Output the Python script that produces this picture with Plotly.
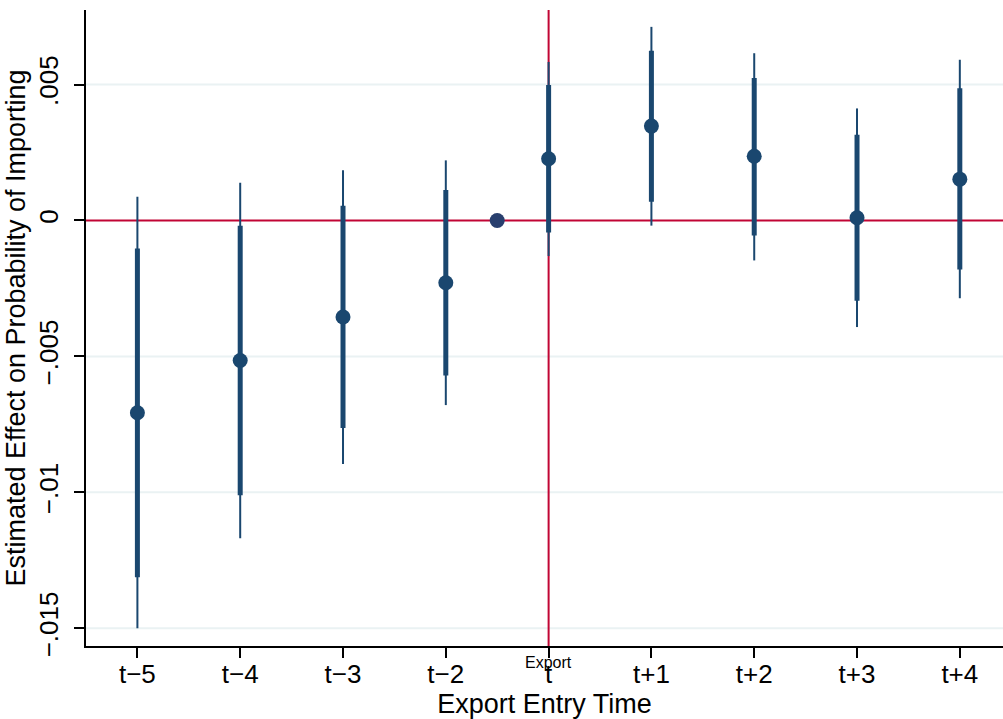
import plotly.graph_objects as go

# Event-study coefficients: effect of export entry on probability of importing
periods = ["t−5", "t−4", "t−3", "t−2", "t", "t+1", "t+2", "t+3", "t+4"]
pos = [0, 1, 2, 3, 4, 5, 6, 7, 8]
coef = [-0.00707, -0.00515, -0.00355, -0.00229, 0.00227, 0.00347, 0.00236, 0.00010, 0.00152]
ci95_lo = [-0.01312, -0.01011, -0.00763, -0.00570, -0.00044, 0.00069, -0.00055, -0.00295, -0.00180]
ci95_hi = [-0.00103, -0.00019, 0.00054, 0.00112, 0.00498, 0.00624, 0.00524, 0.00315, 0.00486]
ci99_lo = [-0.01500, -0.01169, -0.00896, -0.00679, -0.00131, -0.00019, -0.00147, -0.00392, -0.00286]
ci99_hi = [0.00087, 0.00139, 0.00185, 0.00221, 0.00583, 0.00712, 0.00615, 0.00412, 0.00591]

# omitted reference period (normalised to zero), drawn between t−2 and t
ref_pos = [3.5]
ref_coef = [0.0]

ytick_vals = [-0.015, -0.01, -0.005, 0, 0.005]
ytick_text = ["−.015", "−.01", "−.005", "0", ".005"]

NAVY = "#1a476f"
RED = "#c10534"
GRID = "#eaf2f3"
FONT = "Liberation Sans, Arial, sans-serif"


def segments(xs, lo, hi):
    sx, sy = [], []
    for x, a, b in zip(xs, lo, hi):
        sx += [x, x, None]
        sy += [a, b, None]
    return sx, sy


fig = go.Figure()

x99, y99 = segments(pos, ci99_lo, ci99_hi)
fig.add_trace(go.Scatter(x=x99, y=y99, mode="lines",
                         line=dict(color=NAVY, width=2), hoverinfo="skip"))
x95, y95 = segments(pos, ci95_lo, ci95_hi)
fig.add_trace(go.Scatter(x=x95, y=y95, mode="lines",
                         line=dict(color=NAVY, width=5), hoverinfo="skip"))
fig.add_trace(go.Scatter(x=pos, y=coef, mode="markers",
                         marker=dict(color=NAVY, size=15, line=dict(width=0))))
fig.add_trace(go.Scatter(x=ref_pos, y=ref_coef, mode="markers",
                         marker=dict(color="#283f6e", size=15, line=dict(width=0))))

# light horizontal grid at the labelled ticks
for v in ytick_vals:
    if v != 0:
        fig.add_shape(type="line", xref="paper", x0=0, x1=1, yref="y", y0=v, y1=v,
                      line=dict(color=GRID, width=2), layer="below")

# reference lines at zero effect and at the export entry period
fig.add_shape(type="line", xref="paper", x0=0, x1=1, yref="y", y0=0, y1=0,
              line=dict(color=RED, width=2), layer="below")
fig.add_shape(type="line", xref="x", x0=4, x1=4, yref="paper", y0=0, y1=1,
              line=dict(color=RED, width=2), layer="below")

fig.add_annotation(x=4, xref="x", y=-0.026, yref="paper", text="Export",
                   showarrow=False, font=dict(family=FONT, size=16, color="#000000"),
                   yanchor="middle", xanchor="center")

fig.update_layout(
    width=1003, height=719,
    margin=dict(l=86, r=0, t=10, b=73),
    paper_bgcolor="white", plot_bgcolor="white",
    showlegend=False,
    font=dict(family=FONT, color="#000000"),
    xaxis=dict(
        range=[-0.5, 8.42],
        tickvals=pos, ticktext=periods,
        tickfont=dict(size=26),
        ticks="outside", ticklen=10, tickwidth=1.5, tickcolor="#000000",
        showline=True, linecolor="#000000", linewidth=1.5,
        showgrid=False, zeroline=False,
        ticklabelstandoff=-6,
        title=dict(text="Export Entry Time", font=dict(size=27), standoff=2),
    ),
    yaxis=dict(
        range=[-0.01565, 0.00774],
        tickvals=ytick_vals, ticktext=ytick_text,
        tickangle=-90,
        tickfont=dict(size=26),
        ticks="outside", ticklen=10, tickwidth=1.5, tickcolor="#000000",
        showline=True, linecolor="#000000", linewidth=1.5,
        showgrid=False, zeroline=False,
        ticklabelstandoff=6,
        title=dict(text="Estimated Effect on Probability of Importing",
                   font=dict(size=27), standoff=0),
    ),
)

fig.write_html("out.html")
